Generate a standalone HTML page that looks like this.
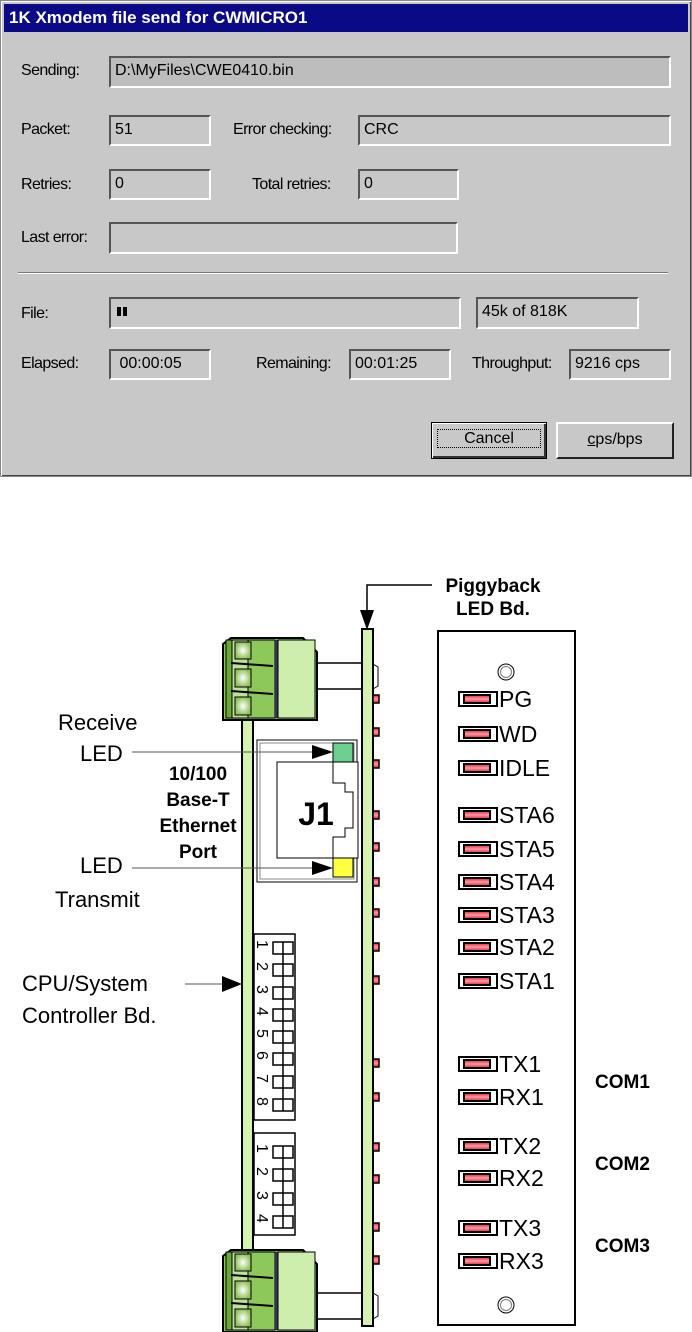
<!DOCTYPE html>
<html><head><meta charset="utf-8"><style>
body{margin:0;background:#fff;width:692px;height:1332px;overflow:hidden;position:relative;font-family:"Liberation Sans",sans-serif}
.dlg{position:absolute;left:0;top:0;width:690px;height:475px;background:#c8c8c8;border:1px solid #888;box-shadow:inset 1px 1px #fff,inset -1px -1px #444}
.tb{position:absolute;left:3px;top:3px;width:684px;height:28px;background:#0a0a86;color:#fff;font-weight:bold;font-size:17px;line-height:28px;padding-left:5px;box-sizing:border-box}
.l{position:absolute;font-size:16px;color:#000;letter-spacing:-0.6px}
.f{position:absolute;box-sizing:border-box;border:2px solid;border-color:#555 #fff #fff #555;font-size:16px;padding-left:4px;line-height:26px;color:#000}
.btn{position:absolute;box-sizing:border-box;border:2px solid;border-color:#fff #222 #222 #fff;font-size:16px;text-align:center;line-height:32px;background:#c8c8c8}
</style></head><body>
<div class="dlg">
<div class="tb">1K Xmodem file send for CWMICRO1</div>
<div class="l" style="left:20px;top:61px">Sending:</div>
<div class="f" style="left:108px;top:55px;width:562px;height:32px;background:#bdbdbd">D:\MyFiles\CWE0410.bin</div>
<div class="l" style="left:20px;top:120px">Packet:</div>
<div class="f" style="left:108px;top:114px;width:102px;height:31px">51</div>
<div class="l" style="left:232px;top:120px">Error checking:</div>
<div class="f" style="left:357px;top:114px;width:313px;height:31px">CRC</div>
<div class="l" style="left:20px;top:175px">Retries:</div>
<div class="f" style="left:108px;top:168px;width:102px;height:31px">0</div>
<div class="l" style="left:251px;top:175px">Total retries:</div>
<div class="f" style="left:357px;top:168px;width:101px;height:31px">0</div>
<div class="l" style="left:20px;top:228px">Last error:</div>
<div class="f" style="left:108px;top:221px;width:349px;height:32px"></div>
<div style="position:absolute;left:17px;top:271px;width:650px;height:1px;background:#777;border-bottom:1px solid #fff"></div>
<div class="l" style="left:20px;top:304px">File:</div>
<div class="f" style="left:108px;top:296px;width:352px;height:32px"><span style="display:inline-block;width:4px;height:9px;background:#000;margin-left:2px"></span><span style="display:inline-block;width:4px;height:9px;background:#000;margin-left:2px"></span></div>
<div class="f" style="left:475px;top:296px;width:163px;height:32px">45k of 818K</div>
<div class="l" style="left:20px;top:354px">Elapsed:</div>
<div class="f" style="left:108px;top:348px;width:102px;height:31px">&nbsp;00:00:05</div>
<div class="l" style="left:255px;top:354px">Remaining:</div>
<div class="f" style="left:348px;top:348px;width:102px;height:31px">00:01:25</div>
<div class="l" style="left:471px;top:354px">Throughput:</div>
<div class="f" style="left:568px;top:348px;width:102px;height:31px">9216 cps</div>
<div class="btn" style="left:430px;top:421px;width:116px;height:37px;border:1px solid #000;box-shadow:inset 1px 1px #fff,inset -2px -2px #333"><span style="border:1px dotted #000;padding:0 26px">Cancel</span></div>
<div class="btn" style="left:555px;top:421px;width:118px;height:37px"><u>c</u>ps/bps</div>
</div>
<svg style="position:absolute;left:0;top:0" width="692" height="1332" font-family="Liberation Sans, sans-serif">
<defs>
<linearGradient id="red" x1="0" x2="0" y1="0" y2="1"><stop offset="0" stop-color="#e02030"/><stop offset=".5" stop-color="#ff9aa8"/><stop offset="1" stop-color="#e02030"/></linearGradient>
<radialGradient id="gl"><stop offset="0" stop-color="#fff"/><stop offset="1" stop-color="#8fc45a"/></radialGradient>
<g id="conn">
<polygon points="0,8 8,2 80,2 94,16 94,84 0,84" fill="#8cc85a" stroke="#000" stroke-width="2"/>
<rect x="3" y="4" width="6" height="78" fill="#6aa83a" stroke="#000"/>
<rect x="9" y="4" width="16" height="78" fill="#bde19a" stroke="#000"/>
<rect x="25" y="4" width="27" height="78" fill="#8cc85a" stroke="#000"/>
<rect x="52" y="4" width="3" height="78" fill="#335"/>
<rect x="55" y="4" width="37" height="78" fill="#cdeeac" stroke="#000"/>
<rect x="12" y="6" width="16" height="17" fill="url(#gl)" stroke="#000"/>
<rect x="12" y="33" width="16" height="18" fill="url(#gl)" stroke="#000"/>
<rect x="12" y="61" width="16" height="18" fill="url(#gl)" stroke="#000"/>
<line x1="8" y1="27" x2="50" y2="30" stroke="#000" stroke-width="2"/>
<line x1="8" y1="55" x2="50" y2="58" stroke="#000" stroke-width="2"/>
</g>
</defs>
<g fill="none" stroke="#000" stroke-width="1.5">
<polyline points="432,585 367,585 367,615"/>
</g>
<polygon points="360,610 374,610 367,630" fill="#000"/>
<text x="493" y="592" font-size="19" font-weight="bold" text-anchor="middle">Piggyback</text>
<text x="493" y="615" font-size="19" font-weight="bold" text-anchor="middle">LED Bd.</text>
<line x1="318" y1="663" x2="362" y2="663" stroke="#000" stroke-width="1.5"/>
<line x1="318" y1="689" x2="362" y2="689" stroke="#000" stroke-width="1.5"/>
<line x1="318" y1="1293" x2="362" y2="1293" stroke="#000" stroke-width="1.5"/>
<line x1="318" y1="1319" x2="362" y2="1319" stroke="#000" stroke-width="1.5"/>
<polyline points="373,664 378,667 378,686 373,689" fill="none" stroke="#000"/>
<polyline points="373,1293 378,1296 378,1316 373,1319" fill="none" stroke="#000"/>
<rect x="362" y="629" width="11" height="697" fill="#d6f2b0" stroke="#000" stroke-width="2"/>
<rect x="242" y="715" width="11" height="540" fill="#d6f2b0" stroke="#000" stroke-width="2"/>
<g fill="url(#red)" stroke="#000" stroke-width="1.5">
<rect x="373" y="695" width="6" height="8"/><rect x="373" y="728" width="6" height="8"/><rect x="373" y="760" width="6" height="8"/>
<rect x="373" y="811" width="6" height="8"/><rect x="373" y="843" width="6" height="8"/><rect x="373" y="878" width="6" height="8"/>
<rect x="373" y="909" width="6" height="8"/><rect x="373" y="943" width="6" height="8"/><rect x="373" y="976" width="6" height="8"/>
<rect x="373" y="1059" width="6" height="8"/><rect x="373" y="1093" width="6" height="8"/><rect x="373" y="1143" width="6" height="8"/>
<rect x="373" y="1175" width="6" height="8"/><rect x="373" y="1223" width="6" height="8"/><rect x="373" y="1256" width="6" height="8"/>
</g>
<use href="#conn" x="223" y="636"/>
<use href="#conn" x="223" y="1248"/>
<rect x="257" y="740" width="100" height="142" fill="#fff" stroke="#000"/>
<rect x="260" y="743" width="94" height="136" fill="none" stroke="#888"/>
<rect x="277" y="762" width="81" height="96" fill="#fff" stroke="#000"/>
<polyline points="333,762 333,783 345,783 345,792 353,792 353,828 345,828 345,837 333,837 333,858" fill="none" stroke="#000"/>
<text x="316" y="825" font-size="32" font-weight="bold" text-anchor="middle">J1</text>
<rect x="333" y="743" width="20" height="19" fill="#6cd090" stroke="#000"/>
<rect x="333" y="858" width="20" height="19" fill="#ffff40" stroke="#000"/>
<g stroke="#000" fill="#fff" stroke-width="1.5">
<rect x="254" y="934" width="41" height="186"/>
<rect x="254" y="1133" width="41" height="102"/>
</g>
<g stroke="#000" fill="#fff" stroke-width="1.5">
<rect x="273" y="942" width="20" height="12"/><rect x="273" y="964" width="20" height="12"/><rect x="273" y="987" width="20" height="12"/><rect x="273" y="1009" width="20" height="12"/>
<rect x="273" y="1031" width="20" height="12"/><rect x="273" y="1053" width="20" height="12"/><rect x="273" y="1076" width="20" height="12"/><rect x="273" y="1099" width="20" height="12"/>
<rect x="273" y="1146" width="20" height="12"/><rect x="273" y="1169" width="20" height="12"/><rect x="273" y="1193" width="20" height="12"/><rect x="273" y="1216" width="20" height="12"/>
<line x1="283" y1="942" x2="283" y2="1111"/><line x1="283" y1="1146" x2="283" y2="1228"/>
</g>
<g font-size="16" fill="#000">
<text transform="translate(257,940) rotate(90)">1</text><text transform="translate(257,962) rotate(90)">2</text><text transform="translate(257,985) rotate(90)">3</text><text transform="translate(257,1007) rotate(90)">4</text>
<text transform="translate(257,1029) rotate(90)">5</text><text transform="translate(257,1051) rotate(90)">6</text><text transform="translate(257,1074) rotate(90)">7</text><text transform="translate(257,1097) rotate(90)">8</text>
<text transform="translate(257,1144) rotate(90)">1</text><text transform="translate(257,1167) rotate(90)">2</text><text transform="translate(257,1191) rotate(90)">3</text><text transform="translate(257,1214) rotate(90)">4</text>
</g>
<g font-size="22" fill="#000">
<text x="58" y="730">Receive</text><text x="80" y="761">LED</text>
<text x="80" y="873">LED</text><text x="55" y="907">Transmit</text>
<text x="22" y="991">CPU/System</text><text x="22" y="1023">Controller Bd.</text>
</g>
<g font-size="19" font-weight="bold" text-anchor="middle">
<text x="198" y="780">10/100</text><text x="198" y="806">Base-T</text><text x="198" y="832">Ethernet</text><text x="198" y="858">Port</text>
</g>
<g stroke="#555" stroke-width="1">
<line x1="132" y1="752" x2="318" y2="752"/><line x1="132" y1="868" x2="318" y2="868"/><line x1="185" y1="984" x2="228" y2="984"/>
</g>
<polygon points="312,745 333,752 312,759" fill="#000"/>
<polygon points="312,861 333,868 312,875" fill="#000"/>
<polygon points="222,976 242,984 222,992" fill="#000"/>
<rect x="438" y="631" width="137" height="694" fill="#fff" stroke="#000" stroke-width="2"/>
<circle cx="506" cy="672" r="8" fill="none" stroke="#000"/><circle cx="506" cy="672" r="5.5" fill="none" stroke="#777"/>
<circle cx="506" cy="1305" r="8" fill="none" stroke="#000"/><circle cx="506" cy="1305" r="5.5" fill="none" stroke="#777"/>
<g stroke="#000" stroke-width="2">
<rect x="459" y="692" width="38" height="14" fill="#fff"/><rect x="464" y="695" width="26" height="8" fill="url(#red)"/>
<rect x="459" y="727" width="38" height="14" fill="#fff"/><rect x="464" y="730" width="26" height="8" fill="url(#red)"/>
<rect x="459" y="761" width="38" height="14" fill="#fff"/><rect x="464" y="764" width="26" height="8" fill="url(#red)"/>
<rect x="459" y="808" width="38" height="14" fill="#fff"/><rect x="464" y="811" width="26" height="8" fill="url(#red)"/>
<rect x="459" y="842" width="38" height="14" fill="#fff"/><rect x="464" y="845" width="26" height="8" fill="url(#red)"/>
<rect x="459" y="875" width="38" height="14" fill="#fff"/><rect x="464" y="878" width="26" height="8" fill="url(#red)"/>
<rect x="459" y="908" width="38" height="14" fill="#fff"/><rect x="464" y="911" width="26" height="8" fill="url(#red)"/>
<rect x="459" y="940" width="38" height="14" fill="#fff"/><rect x="464" y="943" width="26" height="8" fill="url(#red)"/>
<rect x="459" y="974" width="38" height="14" fill="#fff"/><rect x="464" y="977" width="26" height="8" fill="url(#red)"/>
<rect x="459" y="1057" width="38" height="14" fill="#fff"/><rect x="464" y="1060" width="26" height="8" fill="url(#red)"/>
<rect x="459" y="1090" width="38" height="14" fill="#fff"/><rect x="464" y="1093" width="26" height="8" fill="url(#red)"/>
<rect x="459" y="1139" width="38" height="14" fill="#fff"/><rect x="464" y="1142" width="26" height="8" fill="url(#red)"/>
<rect x="459" y="1171" width="38" height="14" fill="#fff"/><rect x="464" y="1174" width="26" height="8" fill="url(#red)"/>
<rect x="459" y="1221" width="38" height="14" fill="#fff"/><rect x="464" y="1224" width="26" height="8" fill="url(#red)"/>
<rect x="459" y="1254" width="38" height="14" fill="#fff"/><rect x="464" y="1257" width="26" height="8" fill="url(#red)"/>
</g>
<g font-size="23" fill="#000">
<text x="499" y="707">PG</text><text x="499" y="742">WD</text><text x="499" y="776">IDLE</text>
<text x="499" y="823">STA6</text><text x="499" y="857">STA5</text><text x="499" y="890">STA4</text>
<text x="499" y="923">STA3</text><text x="499" y="955">STA2</text><text x="499" y="989">STA1</text>
<text x="499" y="1072">TX1</text><text x="499" y="1105">RX1</text><text x="499" y="1154">TX2</text>
<text x="499" y="1186">RX2</text><text x="499" y="1236">TX3</text><text x="499" y="1269">RX3</text>
</g>
<g font-size="19" font-weight="bold">
<text x="595" y="1088">COM1</text><text x="595" y="1170">COM2</text><text x="595" y="1252">COM3</text>
</g>
</svg>
</body></html>
